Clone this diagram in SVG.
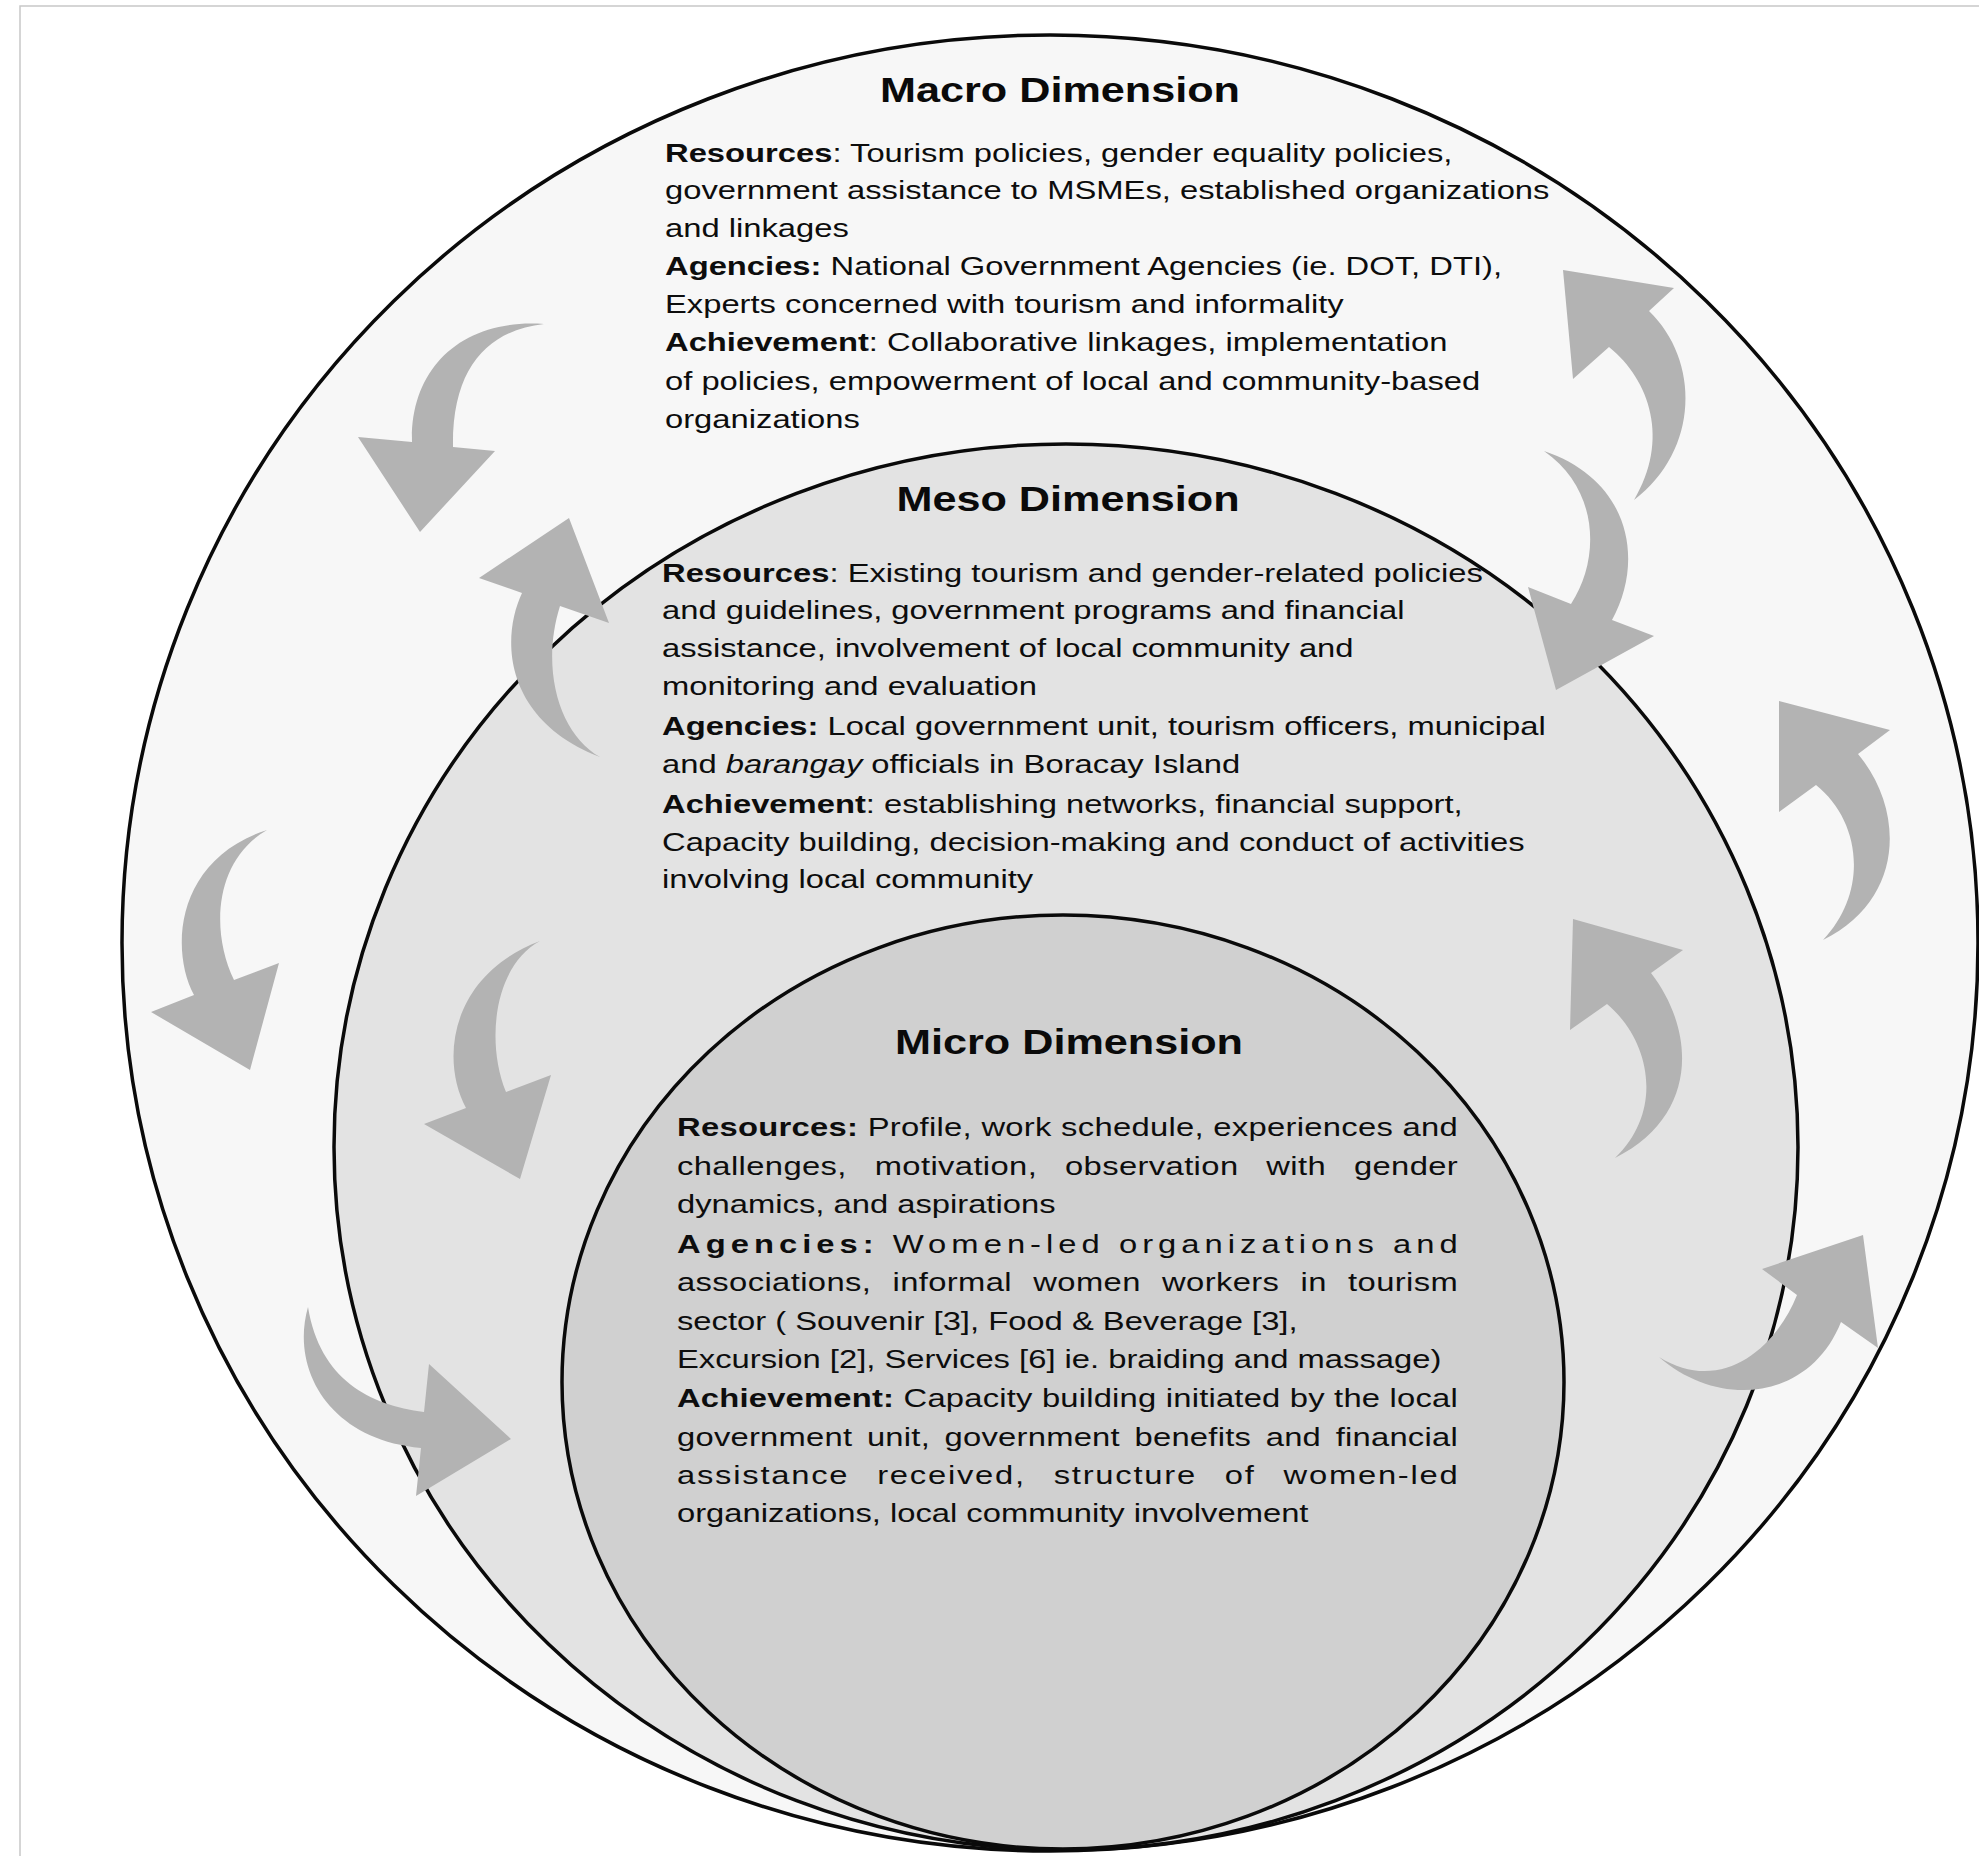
<svg xmlns="http://www.w3.org/2000/svg" width="1979" height="1856" viewBox="0 0 1979 1856">
  <style>
    .frame { fill: none; stroke: #c8c8c8; stroke-width: 1.5; }
    .ring { stroke: #0a0a0a; stroke-width: 3.5; }
    .ring-macro { fill: #f7f7f7; }
    .ring-meso { fill: #e3e3e3; }
    .ring-micro { fill: #d0d0d0; }
    .arrow { fill: #b3b3b3; }
    .title { font-family: "Liberation Sans", Arial, Helvetica, sans-serif; font-size: 36px; font-weight: bold; fill: #0a0a0a; }
    .body { font-family: "Liberation Sans", Arial, Helvetica, sans-serif; font-size: 25px; fill: #0d0d0d; }
    .b { font-weight: bold; }
    .i { font-style: italic; }
  </style>

  <rect width="1979" height="1856" fill="#ffffff"/>
  <path class="frame" d="M20,1856 V6 H1979"/>

  <!-- Macro level: outer ring -->
  <g id="macro">
    <ellipse class="ring ring-macro" cx="1050" cy="943" rx="928" ry="908"/>
    <text class="title" text-anchor="middle" transform="translate(1060,101.5) scale(1.2,1)">Macro Dimension</text>
    <g class="body" transform="translate(665,0) scale(1.31,1)">
      <text x="0" y="162"><tspan class="b">Resources</tspan>: Tourism policies, gender equality policies,</text>
      <text x="0" y="199.5">government assistance to MSMEs, established organizations</text>
      <text x="0" y="237">and linkages</text>
      <text x="0" y="275"><tspan class="b">Agencies:</tspan> National Government Agencies (ie. DOT, DTI),</text>
      <text x="0" y="313">Experts concerned with tourism and informality</text>
      <text x="0" y="351"><tspan class="b">Achievement</tspan>: Collaborative linkages, implementation</text>
      <text x="0" y="390">of policies, empowerment of local and community-based</text>
      <text x="0" y="428">organizations</text>
    </g>
  </g>

  <!-- Meso level: middle ring -->
  <g id="meso">
    <ellipse class="ring ring-meso" cx="1066" cy="1147" rx="732" ry="703"/>
    <text class="title" text-anchor="middle" transform="translate(1068,510.5) scale(1.2,1)">Meso Dimension</text>
    <g class="body" transform="translate(662,0) scale(1.31,1)">
      <text x="0" y="582"><tspan class="b">Resources</tspan>: Existing tourism and gender-related policies</text>
      <text x="0" y="619.5">and guidelines, government programs and financial</text>
      <text x="0" y="657.5">assistance, involvement of local community and</text>
      <text x="0" y="695">monitoring and evaluation</text>
      <text x="0" y="735"><tspan class="b">Agencies:</tspan> Local government unit, tourism officers, municipal</text>
      <text x="0" y="773">and <tspan class="i">barangay</tspan> officials in Boracay Island</text>
      <text x="0" y="813"><tspan class="b">Achievement</tspan>: establishing networks, financial support,</text>
      <text x="0" y="851.5">Capacity building, decision-making and conduct of activities</text>
      <text x="0" y="888.5">involving local community</text>
    </g>
  </g>

  <!-- Micro level: inner circle -->
  <g id="micro">
    <ellipse class="ring ring-micro" cx="1063" cy="1382" rx="501" ry="467"/>
    <text class="title" text-anchor="middle" transform="translate(1069,1054) scale(1.2,1)">Micro Dimension</text>
    <g class="body" transform="translate(677,0) scale(1.31,1)">
      <text x="0" y="1136.5" textLength="596" lengthAdjust="spacing"><tspan class="b">Resources:</tspan> Profile, work schedule, experiences and</text>
      <text x="0" y="1175" textLength="596" lengthAdjust="spacing" word-spacing="14">challenges, motivation, observation with gender</text>
      <text x="0" y="1213">dynamics, and aspirations</text>
      <text x="0" y="1253" textLength="596" lengthAdjust="spacing"><tspan class="b">Agencies:</tspan> Women-led organizations and</text>
      <text x="0" y="1291" textLength="596" lengthAdjust="spacing" word-spacing="9">associations, informal women workers in tourism</text>
      <text x="0" y="1330">sector ( Souvenir [3], Food &amp; Beverage [3],</text>
      <text x="0" y="1368">Excursion [2], Services [6] ie. braiding and massage)</text>
      <text x="0" y="1407" textLength="596" lengthAdjust="spacing"><tspan class="b">Achievement:</tspan> Capacity building initiated by the local</text>
      <text x="0" y="1446" textLength="596" lengthAdjust="spacing" word-spacing="4">government unit, government benefits and financial</text>
      <text x="0" y="1484" textLength="596" lengthAdjust="spacing" word-spacing="13">assistance received, structure of women-led</text>
      <text x="0" y="1522">organizations, local community involvement</text>
    </g>
  </g>

  <!-- Curved flow arrows between the levels -->
  <g id="connectors">
    <path class="arrow" d="M420,532 L358,437 L412,442 C410,370 460,318 544,324 C490,330 452,365 453,447 L495,451 Z"/>
    <path class="arrow" d="M569,518 L479,578 L522,593 C500,640 505,720 600,757 C560,735 540,670 560,606 L609,623 Z"/>
    <path class="arrow" d="M250,1070 L151,1012 L194,995 C170,950 175,860 267,830 C215,860 210,930 234,980 L279,963 Z"/>
    <path class="arrow" d="M520,1179 L424,1124 L466,1108 C440,1060 450,975 540,941 C495,965 485,1040 506,1092 L551,1075 Z"/>
    <path class="arrow" d="M511,1439 L429,1364 L424,1412 C370,1405 320,1380 308,1307 C290,1370 330,1440 421,1448 L416,1496 Z"/>
    <path class="arrow" d="M1563,270 L1573,379 L1609,347 C1650,380 1670,440 1634,500 C1700,450 1700,360 1649,311 L1674,288 Z"/>
    <path class="arrow" d="M1556,690 L1528,587 L1571,604 C1600,560 1600,490 1544,451 C1630,480 1645,560 1612,620 L1654,636 Z"/>
    <path class="arrow" d="M1779,701 L1779,812 L1816,785 C1860,820 1870,890 1823,940 C1905,900 1905,810 1858,754 L1890,730 Z"/>
    <path class="arrow" d="M1573,919 L1570,1030 L1607,1004 C1650,1040 1665,1110 1615,1158 C1700,1115 1695,1030 1651,973 L1683,950 Z"/>
    <path class="arrow" d="M1863,1235 L1762,1269 L1797,1295 C1775,1350 1720,1395 1659,1357 C1720,1410 1810,1400 1841,1322 L1878,1348 Z"/>
  </g>
</svg>
